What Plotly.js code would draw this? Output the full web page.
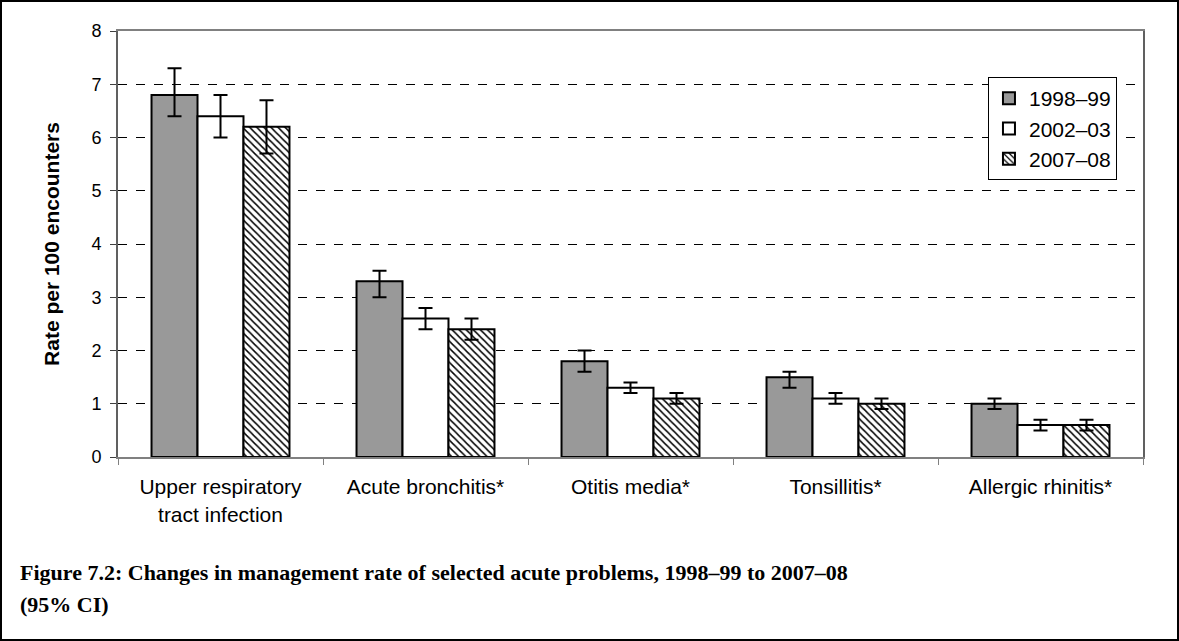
<!DOCTYPE html>
<html>
<head>
<meta charset="utf-8">
<script src="https://cdn.plot.ly/plotly-3.0.1.min.js"></script>
<style>
  html, body { margin: 0; padding: 0; background: #fff; }
  #wrap { position: relative; width: 1179px; height: 641px; }
  #chart { width: 1179px; height: 641px; }
  #frame { position: absolute; left: 0; top: 0; width: 1179px; height: 641px; box-sizing: border-box; border: 2px solid #000; pointer-events: none; }
</style>
</head>
<body>
<div id="wrap"><div id="chart"></div><div id="frame"></div></div>
<script>
const categories = ["Upper respiratory<br>tract infection", "Acute bronchitis*", "Otitis media*", "Tonsillitis*", "Allergic rhinitis*"];
const seriesNames = ["1998–99", "2002–03", "2007–08"];

const rate1998 = [6.8, 3.3, 1.8, 1.5, 1.0];
const lower1998 = [6.4, 3.0, 1.6, 1.3, 0.9];
const upper1998 = [7.3, 3.5, 2.0, 1.6, 1.1];

const rate2002 = [6.4, 2.6, 1.3, 1.1, 0.6];
const lower2002 = [6.0, 2.4, 1.2, 1.0, 0.5];
const upper2002 = [6.8, 2.8, 1.4, 1.2, 0.7];

const rate2007 = [6.2, 2.4, 1.1, 1.0, 0.6];
const lower2007 = [5.7, 2.2, 1.0, 0.9, 0.5];
const upper2007 = [6.7, 2.6, 1.2, 1.1, 0.7];

const yTicks = [0, 1, 2, 3, 4, 5, 6, 7, 8];

function errBar(vals, lo, hi) {
  return {
    type: 'data', symmetric: false,
    array: hi.map((h, i) => +(h - vals[i]).toFixed(3)),
    arrayminus: vals.map((v, i) => +(v - lo[i]).toFixed(3)),
    color: '#000', thickness: 2, width: 7
  };
}

const traces = [
  { type: 'bar', name: seriesNames[0], x: categories, y: rate1998,
    marker: { color: '#999999', line: { color: '#000', width: 2 } },
    error_y: errBar(rate1998, lower1998, upper1998) },
  { type: 'bar', name: seriesNames[1], x: categories, y: rate2002,
    marker: { color: '#ffffff', line: { color: '#000', width: 2 } },
    error_y: errBar(rate2002, lower2002, upper2002) },
  { type: 'bar', name: seriesNames[2], x: categories, y: rate2007,
    marker: { color: '#ffffff', line: { color: '#000', width: 2 },
      pattern: { shape: '\\', fgcolor: '#000', bgcolor: '#fff', size: 5, solidity: 0.3, fillmode: 'replace' } },
    error_y: errBar(rate2007, lower2007, upper2007) }
];

const layout = {
  width: 1179, height: 641,
  margin: { l: 118, r: 36, t: 31, b: 184 },
  paper_bgcolor: '#fff', plot_bgcolor: '#fff',
  font: { family: 'Liberation Sans, Arial, sans-serif', size: 20, color: '#000' },
  barmode: 'group', bargap: 0.327, bargroupgap: 0,
  showlegend: true,
  legend: {
    x: 0.9746, y: 0.892, xanchor: 'right', yanchor: 'top',
    bgcolor: '#fff', bordercolor: '#000', borderwidth: 1,
    font: { family: 'Liberation Sans, Arial, sans-serif', size: 21, color: '#000' },
    traceorder: 'normal', itemwidth: 30
  },
  xaxis: {
    type: 'category', tickson: 'boundaries', ticks: 'outside', ticklen: 6, tickcolor: '#808080', tickwidth: 1,
    showline: true, linecolor: '#808080', linewidth: 2, mirror: true,
    showgrid: false, tickfont: { size: 21 }, automargin: false, ticklabelstandoff: 10
  },
  yaxis: {
    range: [0, 8], tickvals: yTicks, ticks: 'outside', ticklen: 6, tickcolor: '#404040', tickwidth: 1,
    showline: true, linecolor: '#606060', linewidth: 2, mirror: true,
    showgrid: true, gridcolor: '#000', gridwidth: 1, griddash: 'dash',
    zeroline: false, tickfont: { size: 18 }, automargin: false, ticklabelstandoff: 5,
    title: { text: '<b>Rate per 100 encounters</b>', font: { size: 21 }, standoff: 26 }
  },
  annotations: [
    { xref: 'paper', yref: 'paper', x: -0.0976, y: -0.272, xanchor: 'left', yanchor: 'middle', showarrow: false,
      text: '<b>Figure 7.2: Changes in management rate of selected acute problems, 1998–99 to 2007–08</b>',
      font: { family: 'Liberation Serif, serif', size: 22, color: '#000' } },
    { xref: 'paper', yref: 'paper', x: -0.0976, y: -0.347, xanchor: 'left', yanchor: 'middle', showarrow: false,
      text: '<b>(95% CI)</b>',
      font: { family: 'Liberation Serif, serif', size: 22, color: '#000' } }
  ]
};

Plotly.newPlot('chart', traces, layout, { staticPlot: true, displayModeBar: false });
</script>
</body>
</html>
